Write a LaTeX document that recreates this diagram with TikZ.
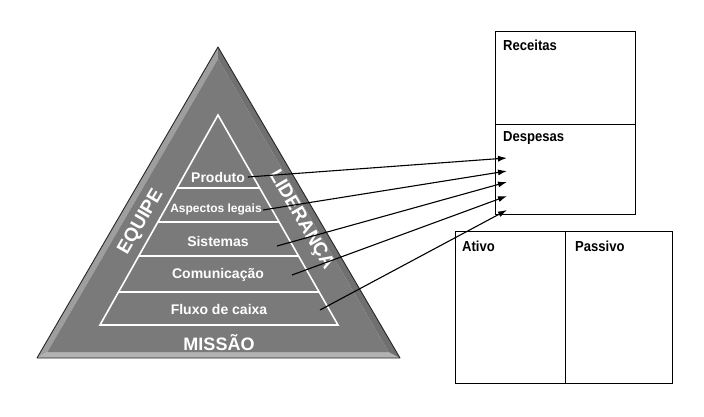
\documentclass[tikz,border=0pt]{standalone}
\usepackage{fontspec}
\setmainfont{Liberation Sans}
\newfontfamily\condfont[FakeStretch=0.9]{Liberation Sans}
\usetikzlibrary{arrows.meta,calc}
\tikzset{
  box/.style={draw=black, line width=1.3pt, fill=white, rectangle, inner sep=0pt, anchor=north west},
  boxlabel/.style={anchor=west, inner sep=0pt, font=\condfont\fontsize{14.5}{15}\selectfont\bfseries},
  pyrlabel/.style={text=white, inner sep=0pt, font=\fontsize{14}{15}\selectfont\bfseries},
  sidelabel/.style={text=white, inner sep=0pt, font=\fontsize{19}{20}\selectfont\bfseries},
  link/.style={draw=black, line width=1.1pt, -{Latex[length=9pt,width=6pt]}},
  stripe/.style={draw=white, line width=1.6pt},
}
\begin{document}
\begin{tikzpicture}[x=1pt,y=-1pt]
\path[use as bounding box, fill=white] (0,0) rectangle (704,416);
% outer pyramid with bevel
\coordinate (A) at (218,47);
\coordinate (L) at (37,358);
\coordinate (R) at (400,358);
\coordinate (iA) at (218,59);
\coordinate (iL) at (47.4,352);
\coordinate (iR) at (388.6,352);
\fill[black!38] (A) -- (L) -- (iL) -- (iA) -- cycle;
\fill[black!30] (L) -- (R) -- (iR) -- (iL) -- cycle;
\fill[black!56] (A) -- (R) -- (iR) -- (iA) -- cycle;
\fill[black!52] (iA) -- (iL) -- (iR) -- cycle;
\draw[black!85, line width=0.9pt, line join=round] (A) -- (L) -- (R) -- cycle;
% inner pyramid
\coordinate (T) at (218,115);
\coordinate (BL) at (100,325);
\coordinate (BR) at (338,325);
\draw[stripe, line join=miter] (T) -- (BL) -- (BR) -- cycle;
\foreach \t in {0.3476,0.5095,0.6714,0.8429}{
  \draw[stripe] ($(T)!\t!(BL)$) -- ($(T)!\t!(BR)$);
}
% labels in the pyramid
\node[pyrlabel] (prod) at (218,177) {Produto};
\node[pyrlabel, font=\fontsize{12}{13}\selectfont\bfseries] (leg) at (216,209) {Aspectos legais};
\node[pyrlabel] (sis) at (218,241) {Sistemas};
\node[pyrlabel] (com) at (218,275) {Comunicação};
\node[pyrlabel] (flx) at (219,309) {Fluxo de caixa};
\node[sidelabel, font=\fontsize{18}{19}\selectfont\bfseries] (mis) at (219,343) {MISSÃO};
\node[sidelabel, rotate=59.8] (eq) at (141,222) {EQUIPE};
\node[sidelabel, rotate=-59.8] (lid) at (301,220) {LIDERANÇA};
% boxes
\node[box, minimum width=140pt, minimum height=93pt] (rec) at (495,31) {};
\node[box, minimum width=140pt, minimum height=90pt] (desp) at (495,124) {};
\node[box, minimum width=110pt, minimum height=152pt] (at) at (455,231) {};
\node[box, minimum width=107pt, minimum height=152pt] (pas) at (565,231) {};
\node[boxlabel] (lrec) at (503,45) {Receitas};
\node[boxlabel] (ldesp) at (503,138) {Despesas};
\node[boxlabel] (lat) at (462,246) {Ativo};
\node[boxlabel] (lpas) at (575,246) {Passivo};
% connectors
\coordinate (s1) at (248,177);
\coordinate (s2) at (263,210);
\coordinate (s3) at (277,246);
\coordinate (s4) at (292,275);
\coordinate (s5) at (320,310);
\coordinate (e1) at (507,158);
\coordinate (e2) at (507,171);
\coordinate (e3) at (507,182);
\coordinate (e4) at (507,196);
\coordinate (e5) at (507,210);
\draw[link] (s1) -- (e1);
\draw[link] (s2) -- (e2);
\draw[link] (s3) -- (e3);
\draw[link] (s4) -- (e4);
\draw[link] (s5) -- (e5);
\end{tikzpicture}
\end{document}
